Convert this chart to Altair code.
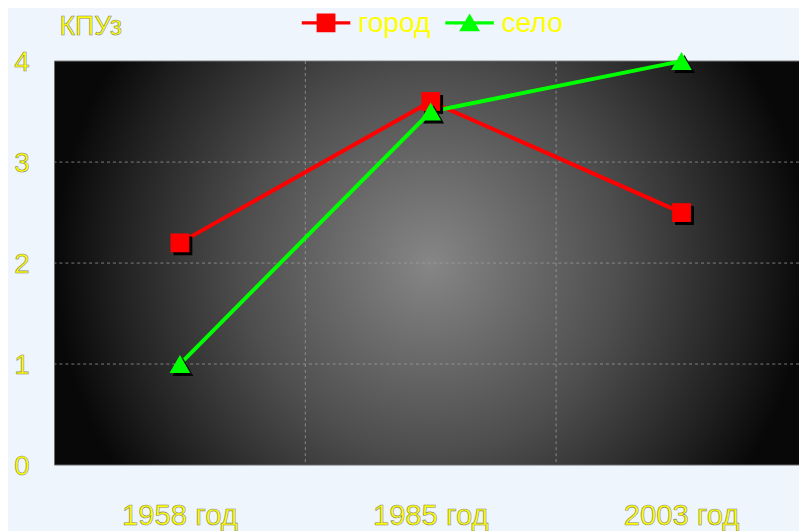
import altair as alt
import pandas as pd

years = ["1958 год", "1985 год", "2003 год"]
series = ["город", "село"]
colors = ["#FF0000", "#00FF00"]
city = [2.2, 3.6, 2.5]
village = [1.0, 3.5, 4.0]
y_ticks = [0, 1, 2, 3, 4]
y_title = "КПУз"

FONT = "Liberation Sans, Arial, sans-serif"
YELLOW = "#FFFF00"
OUTLINE = "#8a8a70"
W, H = 752, 408
XR = 760

df = pd.DataFrame(
    [{"year": y, "series": series[0], "value": v} for y, v in zip(years, city)]
    + [{"year": y, "series": series[1], "value": v} for y, v in zip(years, village)]
)

xscale = alt.Scale(domain=years, range=[0, XR], paddingInner=0, paddingOuter=0)
yscale = alt.Scale(domain=[0, 4], nice=False)
cscale = alt.Scale(domain=series, range=colors)

X = alt.X("year:N", scale=xscale, axis=None, sort=years)
Y = alt.Y("value:Q", scale=yscale, axis=None)

bg = alt.Chart(pd.DataFrame({"a": [0]})).mark_rect(
    color=alt.Gradient(
        gradient="radial",
        stops=[
            alt.GradientStop(color="#868686", offset=0),
            alt.GradientStop(color="#4e4e4e", offset=0.5),
            alt.GradientStop(color="#1e1e1e", offset=0.85),
            alt.GradientStop(color="#080808", offset=1),
        ],
        x1=0.5, y1=0.5, r1=0, x2=0.5, y2=0.5, r2=0.5,
    ),
    stroke="#6a6a6a",
    strokeWidth=1,
).encode(x=alt.value(0), x2=alt.value(XR), y=alt.value(0), y2=alt.value("height"))

hgrid = alt.Chart(pd.DataFrame({"value": y_ticks[1:-1]})).mark_rule(
    color="#a0a0a0", strokeDash=[3, 3], strokeWidth=1, opacity=0.75
).encode(y=Y)

vgrid = alt.Chart(pd.DataFrame({"year": years[1:]})).mark_rule(
    color="#a0a0a0", strokeDash=[3, 3], strokeWidth=1, opacity=0.75
).encode(x=alt.X("year:N", scale=xscale, axis=None, sort=years, bandPosition=0))

base = alt.Chart(df)

def line(name, col):
    return base.transform_filter(alt.datum.series == name).mark_line(
        strokeWidth=4, color=col).encode(x=X, y=Y)

def pts(name, col, shape, size):
    d = base.transform_filter(alt.datum.series == name)
    sh = d.mark_point(filled=True, shape=shape, size=size, opacity=1, color="black",
                      xOffset=3, yOffset=3).encode(x=X, y=Y)
    p = d.mark_point(filled=True, shape=shape, size=size, opacity=1, color=col).encode(
        x=X, y=Y)
    return sh + p

lines = line(series[0], colors[0]) + line(series[1], colors[1])
city_pts = pts(series[0], colors[0], "square", 361)
vil_pts = pts(series[1], colors[1], "triangle-up", 440)

leg = alt.Legend(
    title=None, orient="none", legendX=260, legendY=-53, direction="horizontal",
    labelColor=YELLOW, labelFont=FONT, labelFontSize=28.5, symbolSize=361,
    symbolOpacity=1, symbolStrokeWidth=0, labelOffset=18, columnPadding=14,
    labelLimit=300,
)
# legend-only layer, drawn first so the background hides its marks
legend_layer = base.transform_filter(alt.datum.year == years[1]).mark_point(
    filled=True, opacity=1
).encode(
    x=X, y=Y,
    color=alt.Color("series:N", scale=cscale, legend=leg),
    shape=alt.Shape("series:N", scale=alt.Scale(
        domain=series,
        range=[
            "M-2.58,-0.18H2.58V0.18H-2.58Z M-1,-1H1V1H-1Z",
            "M-2.58,-0.18H2.58V0.18H-2.58Z M0,-1L1.1,0.9H-1.1Z",
        ]), legend=leg),
)

ylabels = alt.Chart(pd.DataFrame({"value": y_ticks})).mark_text(
    font=FONT, fontSize=28, color=YELLOW, stroke=OUTLINE, strokeWidth=0.6,
    align="center", baseline="middle", dy=2,
).encode(y=Y, x=alt.value(-33), text=alt.Text("value:Q"))

xlabels = alt.Chart(pd.DataFrame({"year": years})).mark_text(
    font=FONT, fontSize=29.5, color=YELLOW, stroke=OUTLINE, strokeWidth=0.6,
    align="center", baseline="middle",
).encode(x=X, y=alt.value(H + 52), text="year:N")

title = alt.Chart(pd.DataFrame({"t": [y_title]})).mark_text(
    font=FONT, fontSize=27, color=YELLOW, stroke=OUTLINE, strokeWidth=0.6,
    align="left", baseline="middle",
).encode(x=alt.value(5), y=alt.value(-34), text="t:N")

chart = alt.layer(
    legend_layer, bg, hgrid, vgrid, lines, city_pts, vil_pts, ylabels, xlabels, title
).properties(
    width=W, height=H,
    autosize=alt.AutoSizeParams(type="none"),
    padding={"left": 47, "top": 51, "right": 0, "bottom": 64},
    background="#EEF5FD",
).configure_view(stroke=None)

chart.save("out.html", embed_options={"renderer": "svg", "actions": False})
